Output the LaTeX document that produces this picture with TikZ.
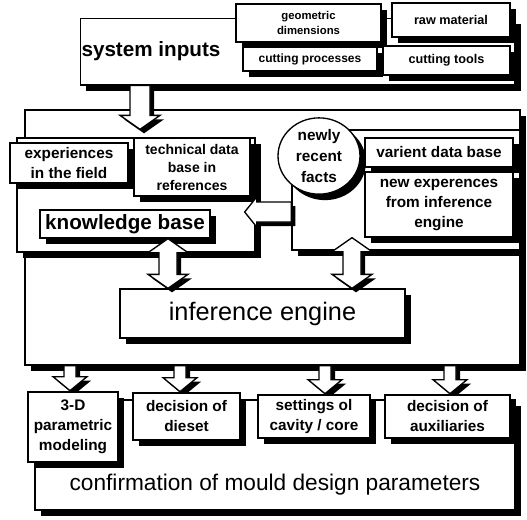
\documentclass[tikz,border=0pt]{standalone}
\usepackage{fontspec}
\setmainfont{Liberation Sans}
\usetikzlibrary{shadows,calc,shapes.geometric}

\tikzset{every picture/.style={line width=0.75pt}}
\tikzset{
	panel/.style={draw, fill=white, line width=1pt, drop shadow={shadow xshift=4.5pt, shadow yshift=-4.5pt, fill=black, opacity=1}},
	item/.style={panel, align=center, inner sep=1pt, font=\bfseries\fontsize{11.5}{15}\selectfont},
	smallitem/.style={panel, align=center, inner sep=1pt, font=\bfseries\fontsize{9}{11}\selectfont},
	headtext/.style={font=\bfseries\fontsize{15.5}{18}\selectfont},
	bigtext/.style={font=\fontsize{17}{22}\selectfont},
	blockarr/.style={draw, fill=white, line width=1pt, line join=miter, drop shadow={shadow xshift=3pt, shadow yshift=-3pt, fill=black, opacity=1}}
}

% block arrow pointing down: start, tip, half shaft, half head
\newcommand{\blkdown}[4]{%
	\draw[blockarr] ($#1+(-#3,0)$) -- ($#1+(#3,0)$) -- ($#2+(#3,-14)$) -- ($#2+(#4,-14)$) -- #2
	-- ($#2+(-#4,-14)$) -- ($#2+(-#3,-14)$) -- cycle;}
% block arrow with two heads: upper tip, lower tip, half shaft, half head
\newcommand{\blkboth}[4]{%
	\draw[blockarr] #1 -- ($#1+(#4,14)$) -- ($#1+(#3,14)$) -- ($#2+(#3,-14)$) -- ($#2+(#4,-14)$) -- #2
	-- ($#2+(-#4,-14)$) -- ($#2+(-#3,-14)$) -- ($#1+(-#3,14)$) -- ($#1+(-#4,14)$) -- cycle;}
% block arrow pointing left: start, tip, half shaft, half head
\newcommand{\blkleft}[4]{%
	\draw[blockarr] ($#1+(0,-#3)$) -- ($#2+(12,-#3)$) -- ($#2+(12,-#4)$) -- #2 -- ($#2+(12,#4)$)
	-- ($#2+(12,#3)$) -- ($#1+(0,#3)$) -- cycle;}

\begin{document}
\begin{tikzpicture}[x=0.75pt,y=0.75pt,yscale=-1,xscale=1]
	\useasboundingbox (0,0) rectangle (527,519);
	
	%System inputs
	\node[panel, minimum width=326pt, minimum height=50pt] (sysbox) at (297.5,51.5) {};
	\node[headtext] (sysin) at (151,51) {system inputs};
	\node[smallitem, minimum width=108.75pt, minimum height=28.5pt, font=\bfseries\fontsize{8.5}{11}\selectfont] (geom) at (308.5,23) {geometric\\dimensions};
	\node[smallitem, minimum width=88.5pt, minimum height=25.5pt, font=\bfseries\fontsize{9.5}{11}\selectfont] (raw) at (451,20) {raw material};
	\node[smallitem, minimum width=100.5pt, minimum height=18pt] (proc) at (310,59) {cutting processes};
	\node[smallitem, minimum width=95.25pt, minimum height=21.75pt, font=\bfseries\fontsize{9.5}{11}\selectfont] (tools) at (446.5,60.5) {cutting tools};
	
	%Main frame
	\node[panel, minimum width=371.25pt, minimum height=191.25pt] (frame) at (272.5,237.5) {};
	\blkdown{(140,0 |- sysbox.south)}{($(140,0 |- frame.north)+(0,20)$)}{10}{20}
	
	%Knowledge side
	\node[panel, minimum width=178.5pt, minimum height=85.5pt] (kgroup) at (136,195) {};
	\node[item, minimum width=88.5pt, minimum height=30pt] (exper) at (69,163) {experiences\\in the field};
	\node[item, minimum width=87pt, minimum height=43.5pt, font=\bfseries\fontsize{10.5}{13.5}\selectfont] (techdb) at (192,167) {technical data\\base in\\references};
	\node[item, minimum width=127.5pt, minimum height=21pt, font=\bfseries\fontsize{15.5}{18}\selectfont] (kbase) at (125,224) {knowledge base};
	
	%Facts side
	\node[panel, minimum width=171pt, minimum height=90pt] (rgroup) at (406,190) {};
	\blkleft{($(rgroup.west)+(0,22)$)}{($(kgroup.east)+(-11,17)$)}{10}{15}
	\node[panel, ellipse, inner sep=0pt, minimum width=61.5pt, minimum height=51pt, align=center, font=\bfseries\fontsize{11.5}{16}\selectfont] (facts) at (319,156) {newly\\recent\\facts};
	\node[item, minimum width=111pt, minimum height=21.75pt] (varient) at (439,152.5) {varient data base};
	\node[item, minimum width=111pt, minimum height=48.75pt] (newexp) at (439,204.5) {new experences\\from inference\\engine};
	
	%Inference engine
	\node[panel, minimum width=213.75pt, minimum height=36.75pt, font=\fontsize{19}{22}\selectfont] (infer) at (262.5,313.5) {inference engine};
	\blkboth{(168,0 |- kbase.south)}{(168,0 |- infer.north)}{9}{20}
	\blkboth{(352,0 |- newexp.south)}{(352,0 |- infer.north)}{9}{20}
	
	%Outputs
	\node[panel, minimum width=360pt, minimum height=82.5pt] (confirm) at (275,455) {};
	\node[bigtext] (conftext) at (275,485) {confirmation of mould design parameters};
	\blkdown{(70,0 |- frame.south)}{($(70,0 |- frame.south)+(0,25)$)}{6}{17}
	\blkdown{(180,0 |- frame.south)}{($(180,0 |- frame.south)+(0,26)$)}{6}{17}
	\blkdown{(325,0 |- frame.south)}{($(325,0 |- frame.south)+(0,28)$)}{6}{17}
	\blkdown{(450,0 |- frame.south)}{($(450,0 |- frame.south)+(0,28)$)}{6}{17}
	\node[item, minimum width=67.5pt, minimum height=52.5pt] (model) at (73,427) {3-D\\parametric\\modeling};
	\node[item, minimum width=80.25pt, minimum height=35.25pt] (dieset) at (186.5,416.5) {decision of\\dieset};
	\node[item, minimum width=84pt, minimum height=32.25pt] (cavity) at (314,416.5) {settings ol\\cavity / core};
	\node[item, minimum width=93.75pt, minimum height=32.25pt] (aux) at (447.5,416.5) {decision of\\auxiliaries};
	
\end{tikzpicture}
\end{document}
